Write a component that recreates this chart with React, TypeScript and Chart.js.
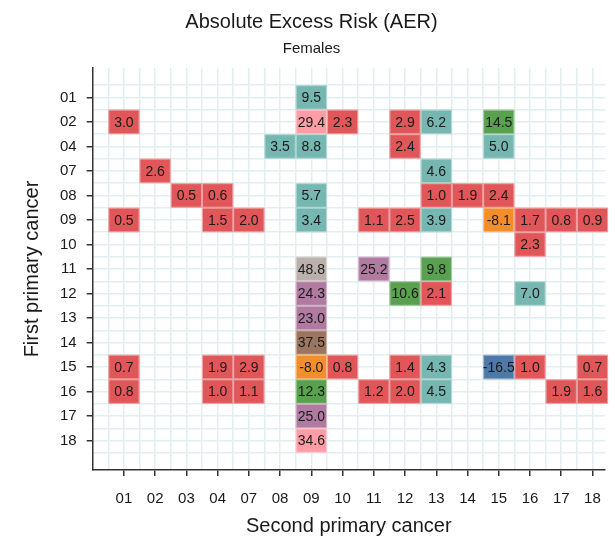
import { useEffect, useRef } from 'react';
import { Chart, registerables } from 'chart.js';

Chart.register(...registerables);

const xCats = ['01', '02', '03', '04', '07', '08', '09', '10', '11', '12', '13', '14', '15', '16', '17', '18'];
const yCats = ['01', '02', '04', '07', '08', '09', '10', '11', '12', '13', '14', '15', '16', '17', '18'];

// one entry per cell: second primary (x), first primary (y), AER value
const cellX = [
  '09',
  '01', '09', '10', '12', '13', '15',
  '08', '09', '12', '15',
  '02', '13',
  '03', '04', '09', '13', '14', '15',
  '01', '04', '07', '09', '11', '12', '13', '15', '16', '17', '18',
  '16',
  '09', '11', '13',
  '09', '12', '13', '16',
  '09',
  '09',
  '01', '04', '07', '09', '10', '12', '13', '15', '16', '18',
  '01', '04', '07', '09', '11', '12', '13', '17', '18',
  '09',
  '09',
];
const cellY = [
  '01',
  '02', '02', '02', '02', '02', '02',
  '04', '04', '04', '04',
  '07', '07',
  '08', '08', '08', '08', '08', '08',
  '09', '09', '09', '09', '09', '09', '09', '09', '09', '09', '09',
  '10',
  '11', '11', '11',
  '12', '12', '12', '12',
  '13',
  '14',
  '15', '15', '15', '15', '15', '15', '15', '15', '15', '15',
  '16', '16', '16', '16', '16', '16', '16', '16', '16',
  '17',
  '18',
];
const cellValue = [
  9.5,
  3.0, 29.4, 2.3, 2.9, 6.2, 14.5,
  3.5, 8.8, 2.4, 5.0,
  2.6, 4.6,
  0.5, 0.6, 5.7, 1.0, 1.9, 2.4,
  0.5, 1.5, 2.0, 3.4, 1.1, 2.5, 3.9, -8.1, 1.7, 0.8, 0.9,
  2.3,
  48.8, 25.2, 9.8,
  24.3, 10.6, 2.1, 7.0,
  23.0,
  37.5,
  0.7, 1.9, 2.9, -8.0, 0.8, 1.4, 4.3, -16.5, 1.0, 0.7,
  0.8, 1.0, 1.1, 12.3, 1.2, 2.0, 4.5, 1.9, 1.6,
  25.0,
  34.6,
];

function binColor(v: number) {
  if (v < -10) return '#4e79a7';
  if (v < 0) return '#f28e2b';
  if (v < 3.2) return '#e15759';
  if (v < 9.7) return '#76b7b2';
  if (v < 20) return '#59a14f';
  if (v < 26) return '#b07aa1';
  if (v < 35) return '#ff9da7';
  if (v < 40) return '#9c755f';
  return '#bab0ac';
}

const FONT = "'Liberation Sans', Arial, sans-serif";

const cellPlugin = {
  id: 'cells',
  afterDatasetsDraw(chart: any) {
    const { ctx, scales } = chart;
    const xs = scales.x;
    const ys = scales.y;
    const w = Math.abs(xs.getPixelForValue(1) - xs.getPixelForValue(0));
    const h = Math.abs(ys.getPixelForValue(1) - ys.getPixelForValue(0));
    ctx.save();
    chart.data.datasets[0].data.forEach((d: any) => {
      const cx = xs.getPixelForValue(d.x);
      const cy = ys.getPixelForValue(d.y);
      ctx.fillStyle = binColor(d.v);
      ctx.fillRect(cx - w / 2, cy - h / 2, w, h);
      ctx.strokeStyle = 'rgba(255,255,255,0.45)';
      ctx.lineWidth = 1;
      ctx.strokeRect(cx - w / 2 + 0.5, cy - h / 2 + 0.5, w - 1, h - 1);
      ctx.fillStyle = '#1a1a1a';
      ctx.font = `14px ${FONT}`;
      ctx.textAlign = 'center';
      ctx.textBaseline = 'middle';
      ctx.fillText(d.v.toFixed(1), cx, cy + 1);
    });
    ctx.restore();
  },
};

export default function App() {
  const ref = useRef<HTMLCanvasElement | null>(null);

  useEffect(() => {
    if (!ref.current) return;
    const points = cellValue.map((v, i) => ({
      x: xCats.indexOf(cellX[i]),
      y: yCats.indexOf(cellY[i]),
      v,
    }));
    const isInt = (val: any) => Math.abs(val - Math.round(val)) < 1e-6;
    const chart = new Chart(ref.current, {
      type: 'scatter',
      data: { datasets: [{ data: points, pointRadius: 0, pointHoverRadius: 0 }] },
      plugins: [cellPlugin],
      options: {
        animation: false,
        responsive: true,
        maintainAspectRatio: false,
        layout: { padding: { left: 16, right: 8, top: 0, bottom: 0 } },
        plugins: {
          legend: { display: false },
          tooltip: { enabled: false },
          title: {
            display: true,
            text: 'Absolute Excess Risk (AER)',
            color: '#1a1a1a',
            font: { family: FONT, size: 20, weight: 'normal' },
            padding: { top: 10, bottom: 6 },
          },
          subtitle: {
            display: true,
            text: 'Females',
            color: '#1a1a1a',
            font: { family: FONT, size: 15 },
            padding: { bottom: 10 },
          },
        },
        scales: {
          x: {
            type: 'linear',
            min: -1,
            max: 15.4,
            afterBuildTicks: (s: any) => {
              const t = [];
              for (let v = -0.5; v <= 15.01; v += 0.5) t.push({ value: v });
              s.ticks = t;
            },
            ticks: {
              autoSkip: false,
              maxRotation: 0,
              padding: 14,
              color: '#1a1a1a',
              font: { family: FONT, size: 15 },
              callback: (val: any) => (isInt(val) ? xCats[Math.round(val)] ?? '' : ''),
            },
            grid: {
              color: '#e3eef1',
              lineWidth: 1.5,
              tickColor: (c: any) => (isInt(c.tick?.value) ? '#333' : 'transparent'),
              tickLength: 6,
            },
            border: { color: '#333', width: 1.5 },
            title: {
              display: true,
              text: 'Second primary cancer',
              color: '#1a1a1a',
              font: { family: FONT, size: 20 },
              padding: { top: -8, bottom: 0 },
            },
          },
          y: {
            type: 'linear',
            reverse: true,
            min: -1.2,
            max: 15.2,
            afterBuildTicks: (s: any) => {
              const t = [];
              for (let v = -0.5; v <= 14.51; v += 0.5) t.push({ value: v });
              s.ticks = t;
            },
            ticks: {
              autoSkip: false,
              padding: 10,
              color: '#1a1a1a',
              font: { family: FONT, size: 15 },
              callback: (val: any) => (isInt(val) ? yCats[Math.round(val)] ?? '' : ''),
            },
            grid: {
              color: '#e3eef1',
              lineWidth: 1.5,
              tickColor: (c: any) => (isInt(c.tick?.value) ? '#333' : 'transparent'),
              tickLength: 6,
            },
            border: { color: '#333', width: 1.5 },
            title: {
              display: true,
              text: 'First primary cancer',
              color: '#1a1a1a',
              font: { family: FONT, size: 20 },
              padding: { bottom: 6 },
            },
          },
        },
      },
    });
    return () => chart.destroy();
  }, []);

  return (
    <div style={{ position: 'fixed', left: 0, top: 0, width: 615, height: 538 }}>
      <canvas ref={ref} />
    </div>
  );
}
